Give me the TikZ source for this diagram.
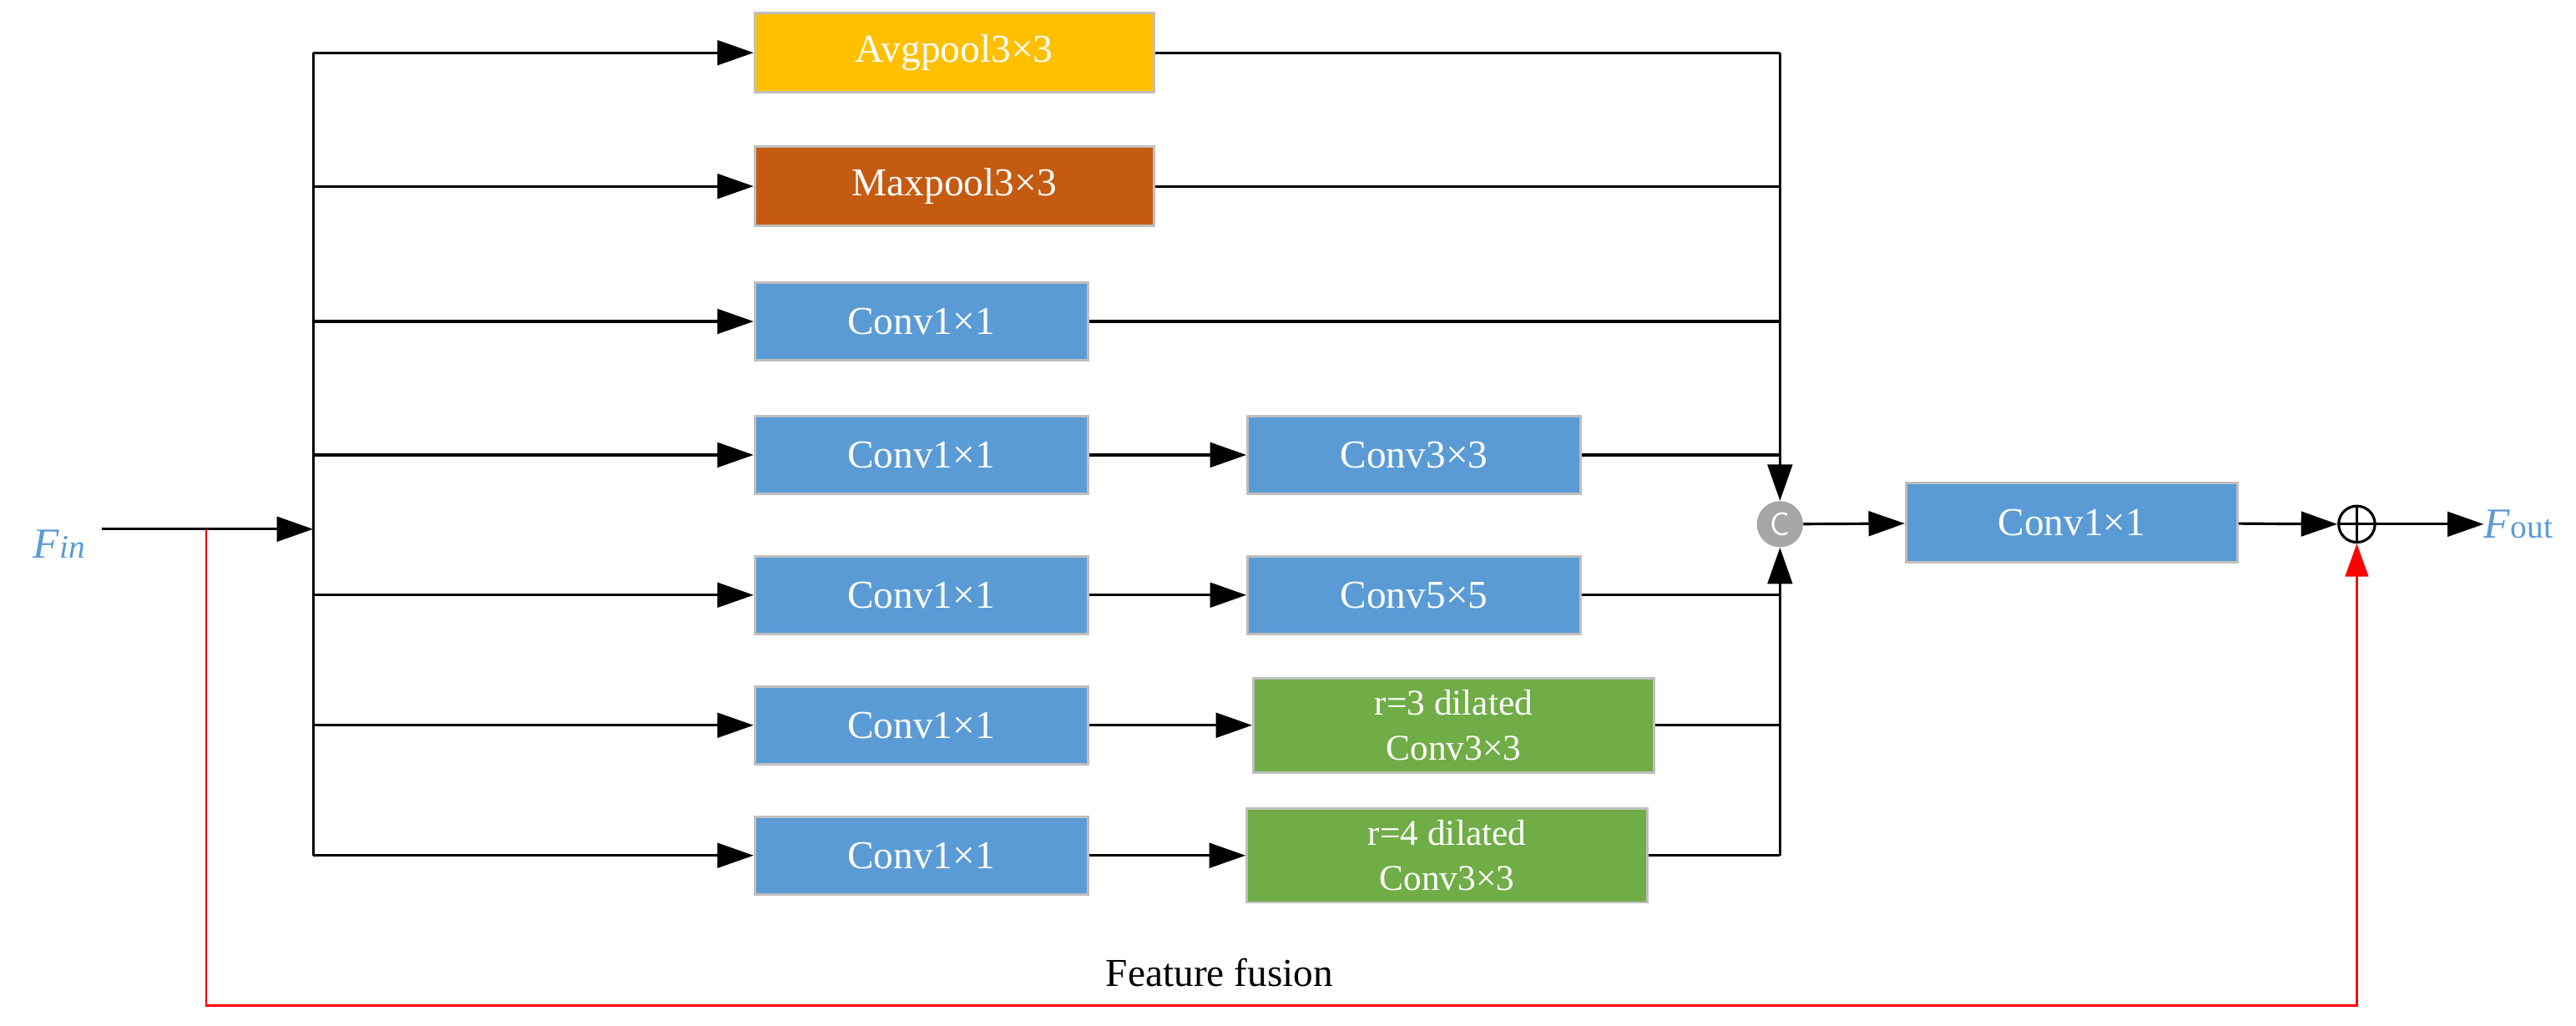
\documentclass[tikz,border=0pt]{standalone}
\usepackage{fontspec}
\setmainfont{Liberation Serif}
\usetikzlibrary{arrows.meta}
\begin{document}
\begin{tikzpicture}[x=1pt,y=-1pt,
 box/.style={draw=black!25,line width=1.5pt,text=white,font=\fontsize{24}{26}\selectfont,inner sep=0pt,align=center},
 ar/.style={line width=1.6pt,-{Triangle[length=22pt,width=15pt]}},
 ln/.style={line width=1.6pt}]
\useasboundingbox (0,0) rectangle (1563,622);
% boxes (center x,y ; width,height)
\node[box,fill={rgb,255:red,255;green,192;blue,0},minimum width=242pt,minimum height=48pt] (avg) at (579,32) {Avgpool3×3};
\node[box,fill={rgb,255:red,197;green,90;blue,17},minimum width=242pt,minimum height=48pt] (max) at (579,113) {Maxpool3×3};
\tikzset{bl/.style={box,fill={rgb,255:red,91;green,155;blue,213},minimum width=202pt,minimum height=47pt},
 gr/.style={box,fill={rgb,255:red,112;green,173;blue,71},minimum height=57pt,font=\fontsize{22}{27}\selectfont}}
\node[bl] (c1) at (559,195) {Conv1×1};
\node[bl] (c2) at (559,276) {Conv1×1};
\node[bl] (c3) at (858,276) {Conv3×3};
\node[bl] (c4) at (559,361) {Conv1×1};
\node[bl] (c5) at (858,361) {Conv5×5};
\node[bl] (c6) at (559,440) {Conv1×1};
\node[gr,minimum width=243pt] (d3) at (882,440) {r=3 dilated\\Conv3×3};
\node[bl] (c7) at (559,519) {Conv1×1};
\node[gr,minimum width=243pt] (d4) at (878,519) {r=4 dilated\\Conv3×3};
\node[circle,fill=black!35,minimum size=28pt,inner sep=0pt,text=white,font=\sffamily\fontsize{20}{20}\selectfont] (cat) at (1080,318) {C};
\node[bl,minimum width=201pt,minimum height=48pt] (cf) at (1257,317) {Conv1×1};
\node[circle,draw,line width=1.6pt,minimum size=22pt,inner sep=0pt] (plus) at (1430,318) {};
\draw[line width=1.6pt] (plus.north)--(plus.south) (plus.west)--(plus.east);
\node[text={rgb,255:red,91;green,155;blue,213},font=\fontsize{26}{26}\selectfont,anchor=west,inner sep=0pt] (fin) at (20,330) {\textit{F}\textit{\fontsize{20}{20}\selectfont in}};
\node[text={rgb,255:red,91;green,155;blue,213},font=\fontsize{26}{26}\selectfont,anchor=west,inner sep=0pt] (fout) at (1507,318) {\textit{F}{\fontsize{20}{20}\selectfont out}};
\node[font=\fontsize{24}{24}\selectfont] (ff) at (740,590) {Feature fusion};
% coordinates
\coordinate (in) at (62,321);
\coordinate (bus) at (190,321);
\coordinate (rb) at (125,321);
\coordinate (rbl) at (125,610);
\coordinate (rbr) at (1430,610);
\draw[ar] (in)--(bus);
\draw[ln] (190,32)--(190,519);
\foreach \n in {avg,max,c1,c2,c4,c6,c7} \draw[ar] (190,0 |- \n.west)--(\n.west);
\draw[ar] (c2)--(c3); \draw[ar] (c4)--(c5); \draw[ar] (c6)--(d3); \draw[ar] (c7)--(d4);
\foreach \n in {avg,max,c1,c3,c5,d3,d4} \draw[ln] (\n.east)--(1080,0 |- \n.east);
\draw[ar] (1080,32)--(cat.north);
\draw[ar] (1080,519)--(cat.south);
\draw[ar] (cat)--(cf);
\draw[ar] (cf)--(plus.west);
\draw[ar] (plus.east)--(fout.west);
\draw[line width=1.3pt,red,-{Triangle[length=20pt,width=14pt]}] (rb)--(rbl)--(rbr)--(plus.south);
\end{tikzpicture}
\end{document}
